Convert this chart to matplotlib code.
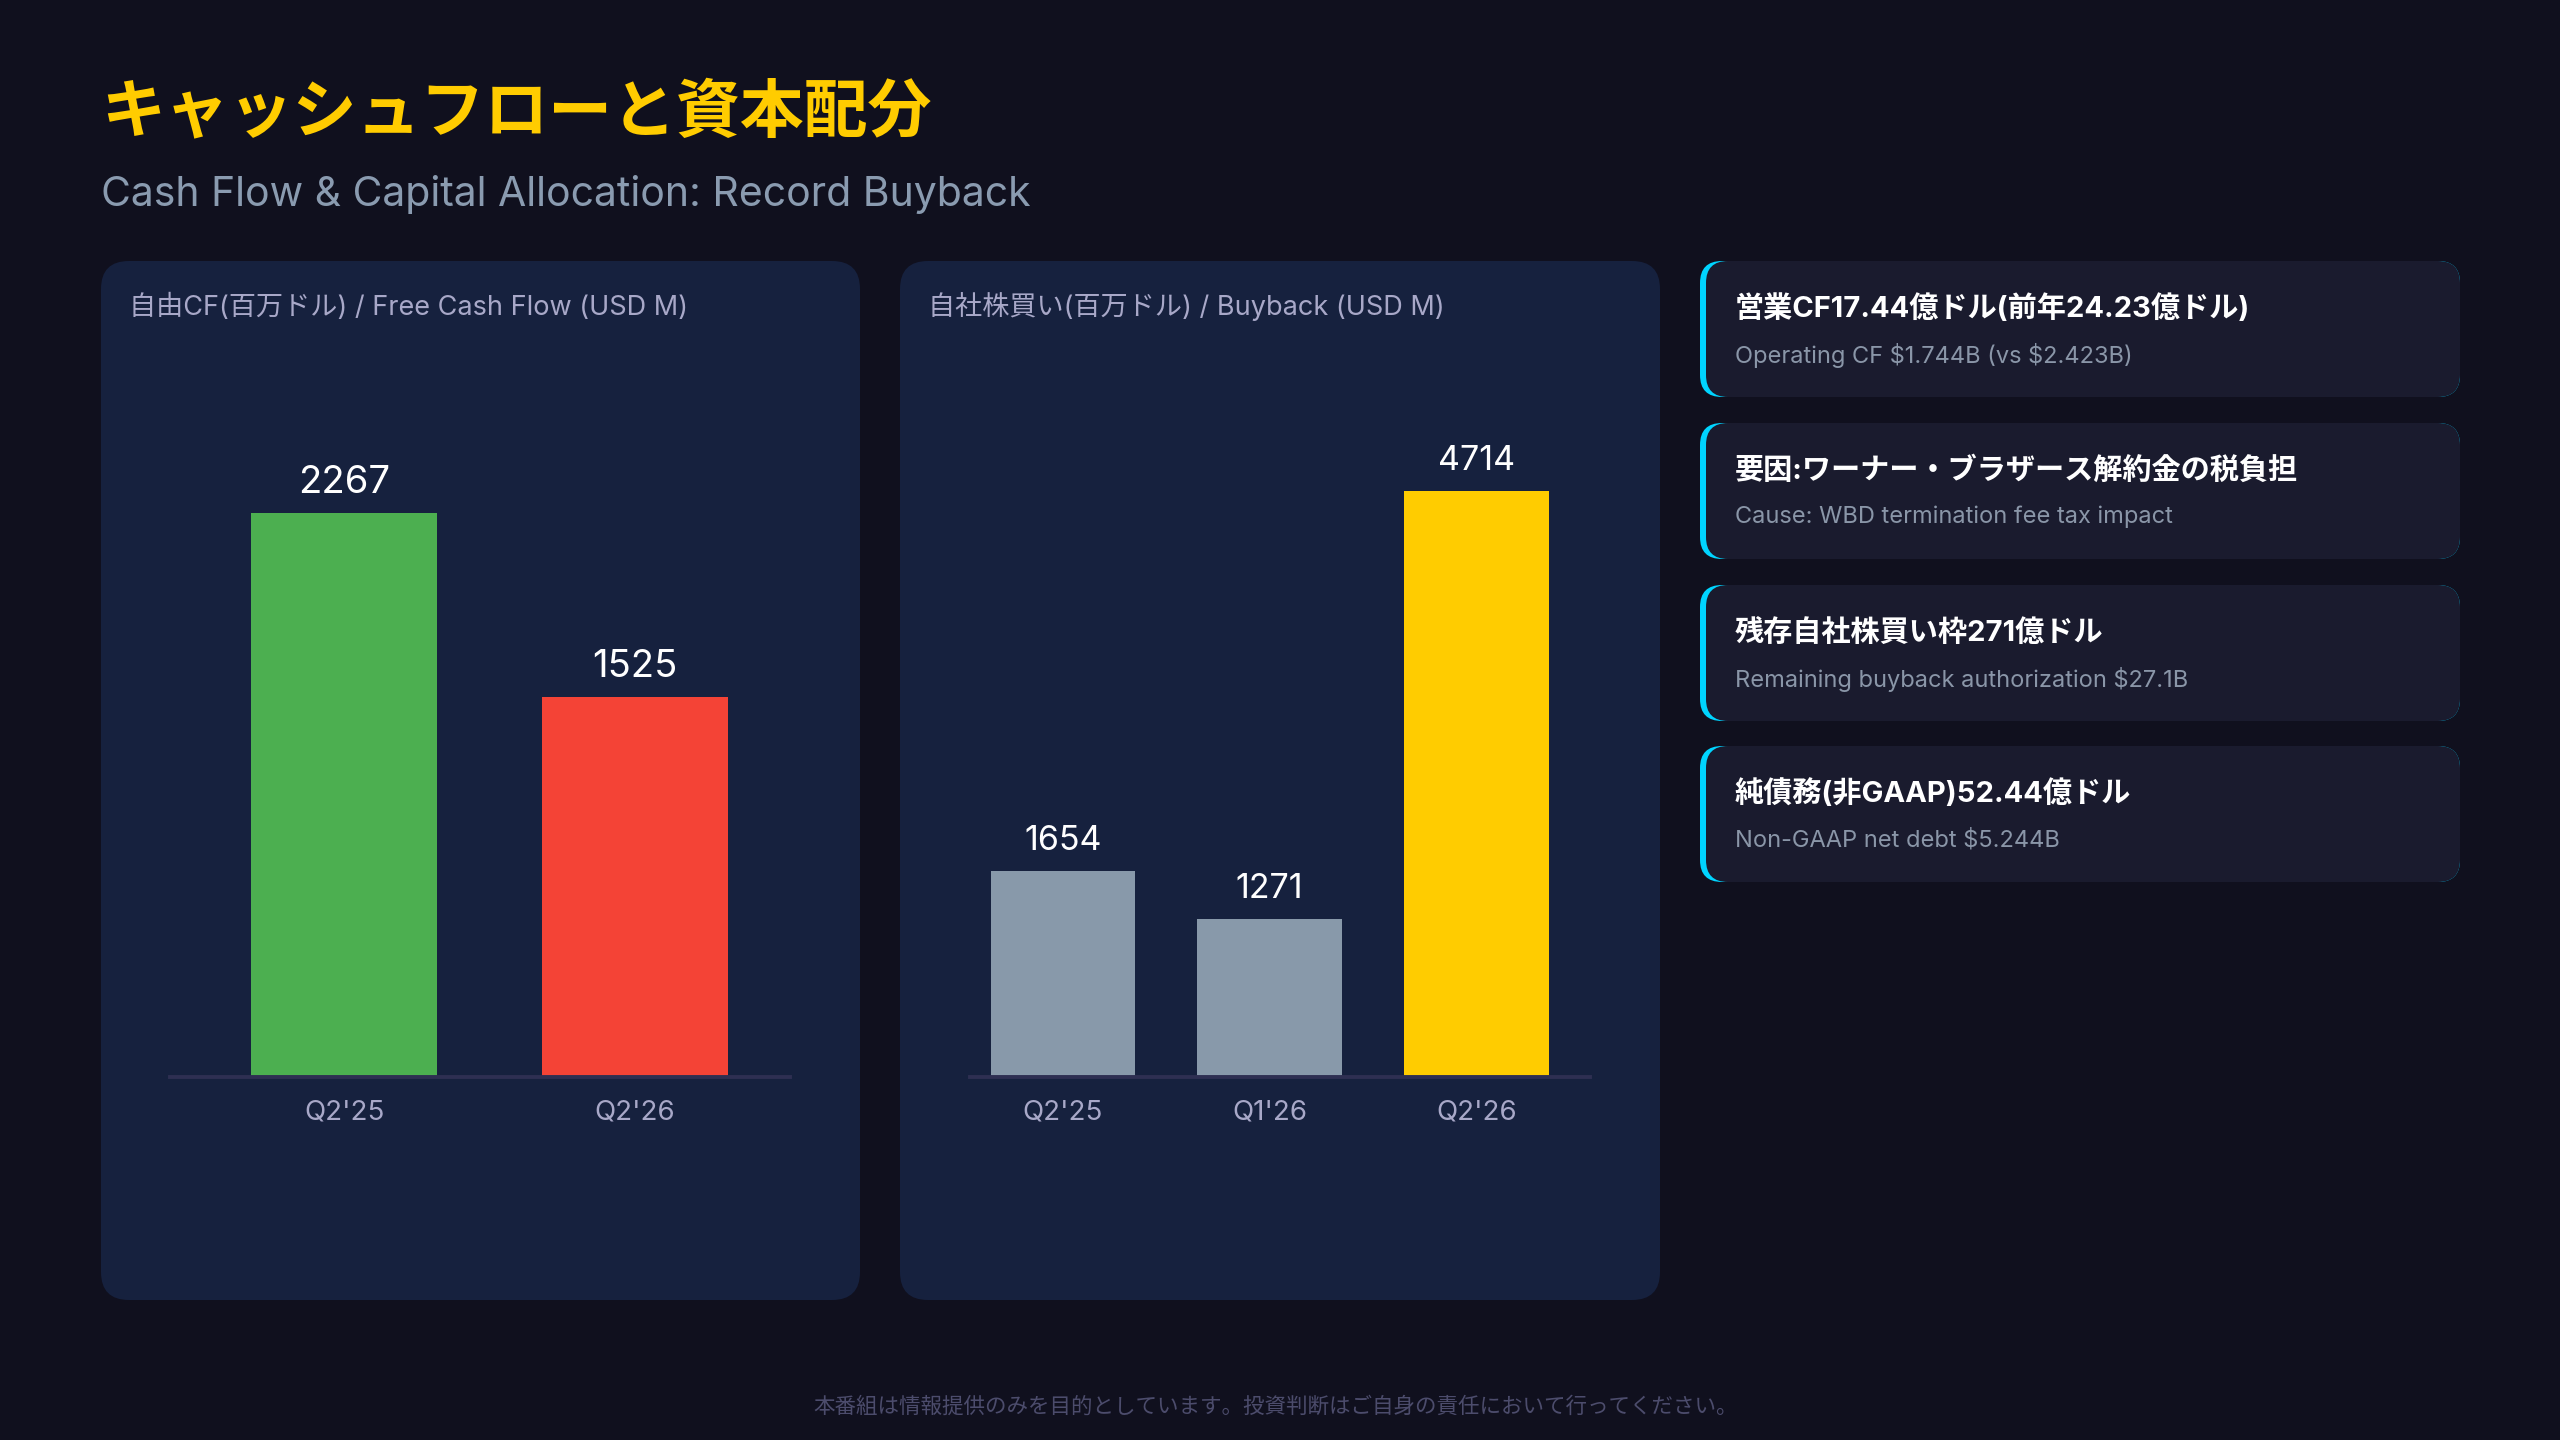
import matplotlib
matplotlib.use("Agg")
import matplotlib.pyplot as plt
from matplotlib.patches import FancyBboxPatch

plt.rcParams['font.family'] = ['Inter', 'Noto Sans CJK JP', 'DejaVu Sans']

# data
fcf_labels = ["Q2'25", "Q2'26"]
fcf_values = [2267, 1525]
fcf_colors = ['#4caf50', '#f44336']

bb_labels = ["Q2'25", "Q1'26", "Q2'26"]
bb_values = [1654, 1271, 4714]
bb_colors = ['#8899aa', '#8899aa', '#ffcc00']

card_titles = [
    "営業CF17.44億ドル(前年24.23億ドル)",
    "要因:ワーナー・ブラザース解約金の税負担",
    "残存自社株買い枠271億ドル",
    "純債務(非GAAP)52.44億ドル",
]
card_subs = [
    "Operating CF \\$1.744B (vs \\$2.423B)",
    "Cause: WBD termination fee tax impact",
    "Remaining buyback authorization \\$27.1B",
    "Non-GAAP net debt \\$5.244B",
]

BG = '#10101e'
PANEL = '#16213e'
CARD = '#1a1b2e'
W, H = 2560, 1440
JP = ['Noto Sans CJK JP', 'DejaVu Sans']

fig = plt.figure(figsize=(25.6, 14.4), dpi=100, facecolor=BG)

# background layer in pixel coords (y down)
bg = fig.add_axes([0, 0, 1, 1])
bg.set_xlim(0, W)
bg.set_ylim(H, 0)
bg.axis('off')
bg.set_zorder(0)


def rbox(x, y, w, h, color, r=28):
    bg.add_patch(FancyBboxPatch((x, y), w, h,
                                boxstyle=f"round,pad=0,rounding_size={r}",
                                fc=color, ec='none'))


# title
bg.text(101, 113, "キャッシュフローと資本配分", color='#ffcc00', fontsize=46,
        fontweight='bold', va='center', ha='left', family=JP)
bg.text(101, 195, "Cash Flow & Capital Allocation: Record Buyback", color='#8a9bb0',
        fontsize=29.5, va='center', ha='left')

# chart panels
rbox(101, 261, 759, 1039, PANEL)
rbox(900, 261, 760, 1039, PANEL)
bg.text(129, 307, "自由CF(百万ドル) / Free Cash Flow (USD M)", color='#a8a8c8',
        fontsize=19.5, va='center', ha='left')
bg.text(928, 307, "自社株買い(百万ドル) / Buyback (USD M)", color='#a8a8c8',
        fontsize=19.5, va='center', ha='left')

# side cards
card_tops = [261, 423, 585, 746]
for top, t, s in zip(card_tops, card_titles, card_subs):
    rbox(1700, top, 760, 136, '#00d4ff', r=22)
    rbox(1706, top, 754, 136, CARD, r=22)
    bg.text(1735, top + 48, t, color='white', fontsize=21, fontweight='bold',
            va='center', ha='left')
    bg.text(1735, top + 94, s, color='#8a96a8', fontsize=17,
            va='center', ha='left')

# footer
bg.text(1276, 1407, "本番組は情報提供のみを目的としています。投資判断はご自身の責任において行ってください。",
        color='#4c4c6c', fontsize=15.5, va='center', ha='center', family=JP)


def bar_axes(x0, x1, labels, values, colors, width, xlim, ytop, lab_size):
    base, top = 1077, 400
    ax = fig.add_axes([x0 / W, 1 - base / H, (x1 - x0) / W, (base - top) / H])
    ax.set_zorder(1)
    ax.patch.set_alpha(0)
    xs = range(len(values))
    ax.bar(xs, values, width=width, color=colors, zorder=2)
    for x, v in zip(xs, values):
        ax.annotate(str(v), (x, v), xytext=(0, 30), textcoords='offset pixels',
                    ha='center', va='center', color='white', fontsize=lab_size)
    ax.set_xlim(*xlim)
    ax.set_ylim(0, ytop)
    for sp in ['top', 'right', 'left']:
        ax.spines[sp].set_visible(False)
    ax.spines['bottom'].set_color('#2e2f52')
    ax.spines['bottom'].set_linewidth(2.8)
    ax.set_yticks([])
    ax.set_xticks(list(xs))
    ax.set_xticklabels(labels, color='#a8a8c8', fontsize=20)
    ax.tick_params(axis='x', length=0, pad=16)
    return ax


bar_axes(170, 790, fcf_labels, fcf_values, fcf_colors, 0.64, (-0.6, 1.535),
         max(fcf_values) * 1.2, 27.5)
bar_axes(970, 1590, bb_labels, bb_values, bb_colors, 0.70, (-0.45, 2.55),
         max(bb_values) * 1.155, 24.5)

fig.savefig('out.png', dpi=100, facecolor=BG)
